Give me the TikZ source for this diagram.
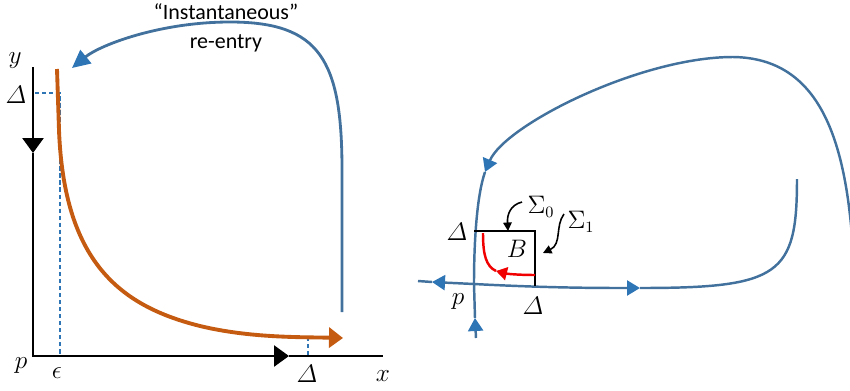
\documentclass[tikz,border=0pt]{standalone}
\usepackage{amsmath}
\usepackage{fontspec}
\setmainfont{Carlito}
\usetikzlibrary{arrows.meta}
\definecolor{flowblue}{RGB}{65,113,156}
\definecolor{tipblue}{RGB}{46,117,182}
\definecolor{orbitorange}{RGB}{197,90,17}
\definecolor{mapred}{RGB}{240,0,0}

\begin{document}
\begin{tikzpicture}[
  x=0.02cm, y=-0.02cm,
  axis/.style={line width=1.5pt, -{Triangle[length=0.3cm, width=0.42cm]}},
  guide/.style={draw=tipblue, line width=0.7pt, dash pattern=on 2.5pt off 1.5pt},
  orbit/.style={draw=flowblue, line width=1.6pt},
  manifold/.style={draw=flowblue, line width=1.4pt},
  bluetip/.style={-{Triangle[length=0.26cm, width=0.3cm, color=tipblue]}},
  boxline/.style={line width=1.1pt},
  mapline/.style={draw=mapred, line width=1.4pt},
  callout/.style={line width=0.9pt, -{Triangle[length=0.17cm, width=0.17cm]}},
  lbl/.style={font=\fontsize{15}{17}\selectfont, inner sep=0pt},
  siglbl/.style={font=\fontsize{13.5}{16}\selectfont, inner sep=0pt},
  txt/.style={font=\fontsize{12.5}{15}\selectfont, inner sep=0pt}
]
\useasboundingbox (0,0) rectangle (850,390);

% left panel: axes
\coordinate (O) at (33,356);
\coordinate (ytop) at (33,67);
\coordinate (ymid) at (33,153);
\coordinate (xmid) at (289,356);
\coordinate (xend) at (383,356);
\draw[axis] (ytop) -- (ymid);
\draw[axis] (ymid) -- (O) -- (xmid);
\draw[line width=1.5pt] (xmid) -- (xend);

\node[lbl] (ylab) at (15,61) {$y$};
\node[lbl] (dely) at (16,95) {$\varDelta$};
\node[lbl] (plab) at (21,366) {$p$};
\node[lbl] (eps) at (57,373) {$\epsilon$};
\node[lbl] (delx) at (307,374) {$\varDelta$};
\node[lbl] (xlab) at (383,376) {$x$};

\draw[guide] (35,93) -- (60,93) -- (60,356);
\draw[guide] (308,337) -- (308,356);

% slow orbit and re-entry
\draw[orbitorange, line width=2.2pt, -{Triangle[length=0.28cm, width=0.4cm]}]
  (57,69) -- (59,130) .. controls (64,262) and (120,306) .. (200,326)
  .. controls (250,338) and (300,337) .. (343,338);
\draw[orbit, -{Triangle[length=0.36cm, width=0.34cm, color=tipblue]}]
  (342,312) -- (342,170) .. controls (342,60) and (320,22) .. (230,22)
  .. controls (160,22) and (100,45) .. (72,68);
\node[txt] (instant) at (226,12) {“Instantaneous”};
\node[txt] (reentry) at (226,43) {re-entry};

% right panel
\coordinate (p) at (474,284);
\coordinate (wl) at (432,282);
\coordinate (wr) at (640,288);
\coordinate (sb) at (475,318);
\coordinate (st) at (485,172);
\draw[manifold, bluetip] (p) -- (wl);
\draw[manifold] (wl) -- (418,281);
\draw[manifold, bluetip] (p) .. controls (550,288) and (600,288) .. (wr);
\draw[manifold] (wr) .. controls (780,288) and (797,275) .. (797,179);
\draw[manifold, bluetip] (476,338) -- (sb);
\draw[manifold] (sb) -- (p);
\draw[manifold, bluetip] (853,250) .. controls (846,140) and (820,58) .. (733,57)
  .. controls (640,57) and (505,125) .. (st);
\draw[manifold] (st) .. controls (477,195) and (474,240) .. (p);

\coordinate (bnw) at (474,231);
\coordinate (bne) at (535,231);
\coordinate (bse) at (535,286);
\draw[boxline] (bnw) -- (bne) -- (bse);
\coordinate (rm) at (496,271);
\draw[mapline, -{Triangle[length=0.22cm, width=0.26cm]}] (535,275) .. controls (520,275) and (508,274) .. (rm);
\draw[mapline] (rm) .. controls (486,266) and (483,255) .. (483,233);

\node[lbl] (deltop) at (457,232) {$\varDelta$};
\node[lbl] (blab) at (517,249) {$B$};
\node[lbl] (pright) at (458,302) {$p$};
\node[lbl] (delright) at (533,306) {$\varDelta$};
\node[siglbl] (sig0) at (541,207) {$\Sigma_0$};
\node[siglbl] (sig1) at (581,222) {$\Sigma_1$};
\draw[callout] (522,202) .. controls (510,205) and (507,215) .. (508,231);
\draw[callout] (564,214) .. controls (555,226) and (562,244) .. (543,253);
\end{tikzpicture}
\end{document}
